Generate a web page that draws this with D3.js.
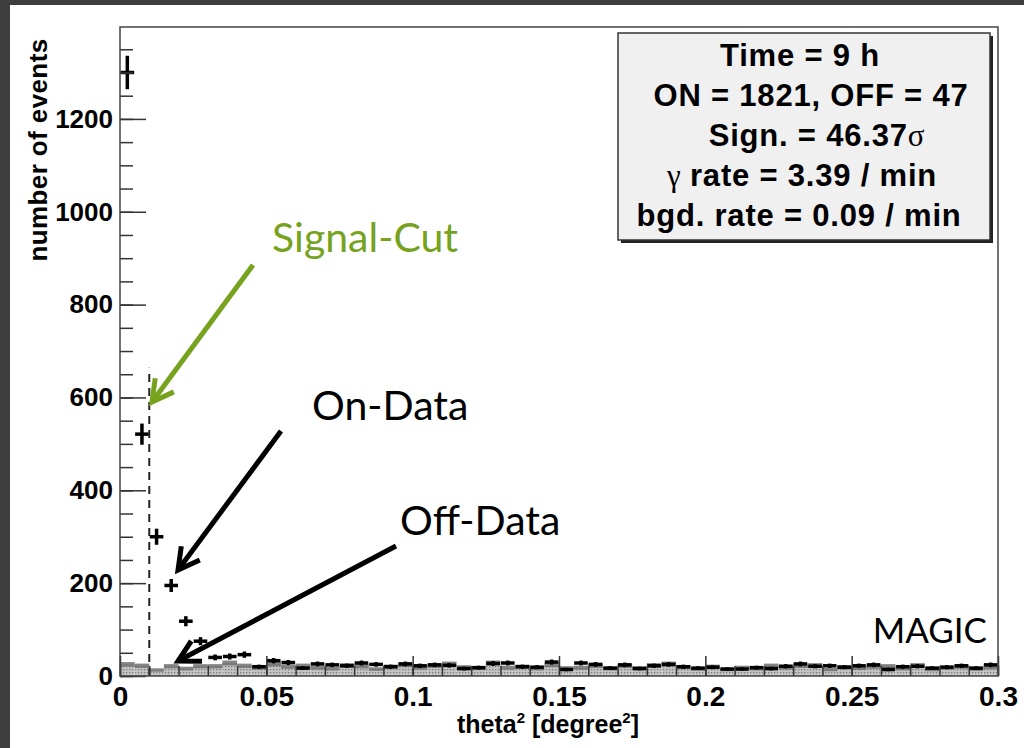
<!DOCTYPE html>
<html lang="en">
    <head>
        <meta charset="UTF-8">
        <title>theta2 plot</title>
        <style>
            body { margin: 0; background: #fff; }
            svg { display: block; }
        </style>
    </head>
    <script src="https://cdn.jsdelivr.net/npm/d3@7"></script>
    <body>
        <svg width="1024" height="748"></svg>
    </body>

    <script>
    // bin width 0.005 from 0 to 0.3
    var binWidth = 0.005;
    var onCounts = [1300, 521, 300, 195, 118, 75, 40, 42, 46, 20,
                    33, 29, 17, 26, 24, 22, 28, 25, 20, 26,
                    22, 24, 23, 16, 18, 27, 28, 20, 19, 30,
                    14, 28, 25, 17, 24, 16, 22, 25, 20, 17,
                    19, 15, 15, 18, 16, 21, 26, 21, 22, 19,
                    22, 24, 14, 20, 21, 17, 19, 22, 17, 24];
    var offCounts = [25, 22, 13, 21, 16, 21, 21, 28, 22, 18,
                     26, 20, 22, 18, 16, 23, 21, 15, 20, 24,
                     18, 22, 26, 19, 17, 28, 18, 20, 16, 24,
                     17, 18, 22, 16, 22, 17, 23, 26, 19, 15,
                     20, 14, 18, 16, 22, 18, 22, 23, 14, 19,
                     17, 20, 21, 16, 23, 14, 18, 20, 15, 19];
    var xMajorTicks = [0, 0.05, 0.1, 0.15, 0.2, 0.25, 0.3];
    var xTickLabels = ["0", "0.05", "0.1", "0.15", "0.2", "0.25", "0.3"];
    var yMajorTicks = [0, 200, 400, 600, 800, 1000, 1200];
    var yTickLabels = ["0", "200", "400", "600", "800", "1000", "1200"];
    var signalCut = 0.01;
    var statsLines = ["Time = 9 h", "ON = 1821, OFF = 47", "Sign. = 46.37", "rate = 3.39 / min", "bgd. rate = 0.09 / min"];

    var svg = d3.select("svg");

    // dark frame of the screenshot
    svg.append("rect").attr("x", 0).attr("y", 0).attr("width", 1024).attr("height", 5).attr("fill", "#3e3e3e");
    svg.append("rect").attr("x", 0).attr("y", 0).attr("width", 10).attr("height", 748).attr("fill", "#3e3e3e");

    var x = d3.scaleLinear().domain([0, 0.3]).range([120, 998]);
    var y = d3.scaleLinear().domain([0, 1398]).range([676, 27]);

    // dotted fill for the off histogram
    var defs = svg.append("defs");
    var pat = defs.append("pattern").attr("id", "dots")
        .attr("width", 3).attr("height", 3).attr("patternUnits", "userSpaceOnUse");
    pat.append("rect").attr("width", 3).attr("height", 3).attr("fill", "#c4c4c4");
    pat.append("rect").attr("width", 1.3).attr("height", 1.3).attr("fill", "#7a7a7a");

    var bins = onCounts.map(function(d, i) {
        return {lo: i * binWidth, hi: (i + 1) * binWidth, on: d, off: offCounts[i]};
    });

    // off data: filled histogram + error band
    svg.append("g").selectAll("rect")
        .data(bins)
        .join("rect")
        .attr("x", function(d){ return x(d.lo); })
        .attr("width", function(d){ return x(d.hi) - x(d.lo); })
        .attr("y", function(d){ return y(d.off); })
        .attr("height", function(d){ return y(0) - y(d.off); })
        .attr("fill", "url(#dots)");
    svg.append("g").selectAll("rect")
        .data(bins)
        .join("rect")
        .attr("x", function(d){ return x(d.lo); })
        .attr("width", function(d){ return x(d.hi) - x(d.lo); })
        .attr("y", function(d){ return y(d.off + Math.sqrt(d.off)); })
        .attr("height", function(d){ return y(d.off - Math.sqrt(d.off)) - y(d.off + Math.sqrt(d.off)); })
        .attr("fill", "#707070")
        .attr("opacity", 0.85);

    // on data: crosses with sqrt(N) errors
    var onG = svg.append("g").attr("stroke", "#000");
    onG.selectAll("line.h")
        .data(bins)
        .join("line")
        .attr("class", "h")
        .attr("stroke-width", 3.5)
        .attr("x1", function(d){ return x(d.lo) + 0.5; })
        .attr("x2", function(d){ return x(d.hi) - 0.5; })
        .attr("y1", function(d){ return y(d.on); })
        .attr("y2", function(d){ return y(d.on); });
    onG.selectAll("line.v")
        .data(bins)
        .join("line")
        .attr("class", "v")
        .attr("stroke-width", 3.5)
        .attr("x1", function(d){ return x((d.lo + d.hi) / 2); })
        .attr("x2", function(d){ return x((d.lo + d.hi) / 2); })
        .attr("y1", function(d){ return y(d.on + Math.sqrt(d.on)); })
        .attr("y2", function(d){ return y(d.on - Math.sqrt(d.on)); });

    // signal cut
    svg.append("line")
        .attr("x1", x(signalCut)).attr("x2", x(signalCut))
        .attr("y1", y(0)).attr("y2", y(664))
        .attr("stroke", "#222").attr("stroke-width", 2)
        .attr("stroke-dasharray", "8,6");

    // axes
    var axisFont = "'Liberation Sans', Arial, sans-serif";
    function styleAxis(size) {
        return function(g) {
            g.select(".domain").remove();
            g.selectAll("line").attr("stroke", "#333").attr("stroke-width", 1.5);
            g.selectAll("text").attr("fill", "#000").attr("font-family", axisFont)
                .attr("font-weight", "bold").attr("font-size", size);
        };
    }
    svg.append("g").attr("transform", "translate(0," + y(0) + ")")
        .call(d3.axisBottom(x).tickValues(d3.range(0, 0.3001, 0.01)).tickSize(-10).tickFormat(""))
        .call(styleAxis(28));
    svg.append("g").attr("transform", "translate(0," + y(0) + ")")
        .call(d3.axisBottom(x).tickValues(xMajorTicks).tickSize(-20).tickPadding(10)
            .tickFormat(function(d, i){ return xTickLabels[i]; }))
        .call(styleAxis(28));
    svg.append("g").attr("transform", "translate(" + x(0) + ",0)")
        .call(d3.axisLeft(y).tickValues(d3.range(0, 1398, 50)).tickSize(-13).tickFormat(""))
        .call(styleAxis(26));
    svg.append("g").attr("transform", "translate(" + x(0) + ",0)")
        .call(d3.axisLeft(y).tickValues(yMajorTicks).tickSize(-26).tickPadding(7)
            .tickFormat(function(d, i){ return yTickLabels[i]; }))
        .call(styleAxis(26));

    // frame
    svg.append("rect")
        .attr("x", x(0)).attr("y", y(1398))
        .attr("width", x(0.3) - x(0)).attr("height", y(0) - y(1398))
        .attr("fill", "none").attr("stroke", "#444").attr("stroke-width", 1.5);

    // axis titles
    svg.append("text")
        .attr("transform", "translate(47,150) rotate(-90)")
        .attr("text-anchor", "middle")
        .attr("font-family", axisFont).attr("font-weight", "bold").attr("font-size", 26)
        .attr("letter-spacing", 0.4)
        .text("number of events");
    var xt = svg.append("text")
        .attr("x", 548).attr("y", 733)
        .attr("text-anchor", "middle")
        .attr("font-family", axisFont).attr("font-weight", "bold").attr("font-size", 25);
    xt.append("tspan").text("theta");
    xt.append("tspan").attr("font-size", 15).attr("dy", -10).text("2");
    xt.append("tspan").attr("dy", 10).text(" [degree");
    xt.append("tspan").attr("font-size", 15).attr("dy", -10).text("2");
    xt.append("tspan").attr("dy", 10).text("]");

    // stats box
    svg.append("rect").attr("x", 621).attr("y", 36).attr("width", 372).attr("height", 207).attr("fill", "#222");
    svg.append("rect").attr("x", 618).attr("y", 33).attr("width", 372).attr("height", 207)
        .attr("fill", "#f0f0f0").attr("stroke", "#333").attr("stroke-width", 1.5);
    var serif = "'Liberation Serif', 'Times New Roman', serif";
    var st = svg.append("g").attr("font-family", axisFont).attr("font-weight", "bold")
        .attr("font-size", 31).attr("letter-spacing", 0.8).attr("text-anchor", "middle").attr("fill", "#000");
    st.append("text").attr("x", 800).attr("y", 66).text(statsLines[0]);
    st.append("text").attr("x", 811).attr("y", 106).text(statsLines[1]);
    var s3 = st.append("text").attr("x", 817).attr("y", 146);
    s3.append("tspan").text(statsLines[2]);
    s3.append("tspan").attr("font-family", serif).attr("font-weight", "normal").text("\u03c3");
    var s4 = st.append("text").attr("x", 802).attr("y", 186);
    s4.append("tspan").attr("font-family", serif).attr("font-weight", "normal").text("\u03b3 ");
    s4.append("tspan").text(statsLines[3]);
    st.append("text").attr("x", 799).attr("y", 226).text(statsLines[4]);

    // annotations
    var annFont = "Lato, 'Open Sans', sans-serif";
    function arrow(x1, y1, x2, y2, color) {
        var a = Math.atan2(y1 - y2, x1 - x2), L = 24, w = 0.5;
        var g = svg.append("g").attr("stroke", color).attr("stroke-width", 5).attr("fill", "none")
            .attr("stroke-linecap", "butt").attr("stroke-linejoin", "miter");
        g.append("line").attr("x1", x1).attr("y1", y1).attr("x2", x2).attr("y2", y2);
        g.append("path").attr("d", "M" + (x2 + L * Math.cos(a + w)) + "," + (y2 + L * Math.sin(a + w)) +
            "L" + x2 + "," + y2 + "L" + (x2 + L * Math.cos(a - w)) + "," + (y2 + L * Math.sin(a - w)));
    }
    svg.append("text").attr("x", 272).attr("y", 252).attr("font-family", annFont)
        .attr("font-size", 41).attr("fill", "#76a21e").text("Signal-Cut");
    arrow(253, 265, 152, 402, "#76a21e");
    svg.append("text").attr("x", 312).attr("y", 420).attr("font-family", annFont)
        .attr("font-size", 41).attr("fill", "#000").text("On-Data");
    arrow(281, 431, 178, 570, "#000");
    svg.append("text").attr("x", 400).attr("y", 535).attr("font-family", annFont)
        .attr("font-size", 41).attr("fill", "#000").text("Off-Data");
    arrow(396, 546, 178, 661, "#000");
    svg.append("text").attr("x", 987).attr("y", 643).attr("text-anchor", "end").attr("font-family", annFont)
        .attr("font-size", 35).attr("fill", "#000").text("MAGIC");
    </script>
</html>
